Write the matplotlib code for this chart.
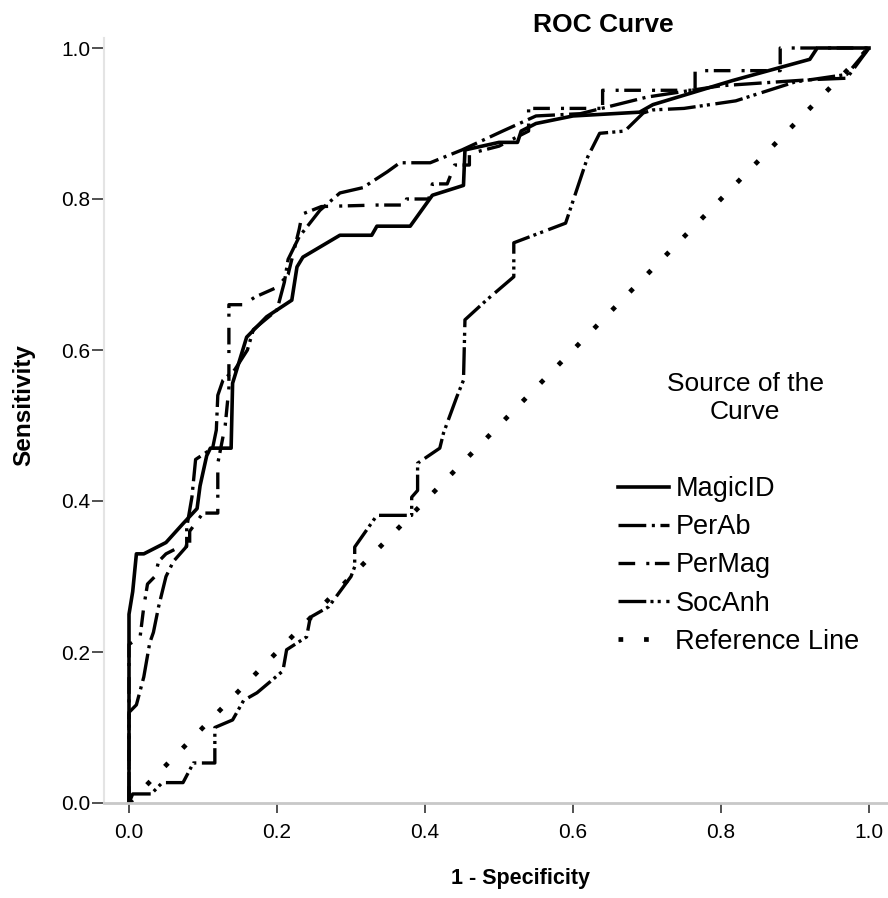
import matplotlib
matplotlib.use("Agg")
import matplotlib.pyplot as plt
from matplotlib.lines import Line2D

plt.rcParams['font.family'] = ['Liberation Sans', 'DejaVu Sans']
plt.rcParams['lines.scale_dashes'] = False

# ROC points (1 - specificity, sensitivity)
magic_fpr = [0, 0, 0.005, 0.01, 0.02, 0.05, 0.073, 0.092, 0.096, 0.105, 0.11, 0.138, 0.14,
             0.159, 0.186, 0.22, 0.227, 0.235, 0.285, 0.328, 0.335, 0.38, 0.41, 0.452, 0.454,
             0.5, 0.525, 0.53, 0.55, 0.6, 0.69, 0.708, 0.816, 0.92, 0.93, 1.0]
magic_tpr = [0, 0.25, 0.28, 0.33, 0.33, 0.345, 0.37, 0.39, 0.42, 0.46, 0.47, 0.47, 0.556,
             0.617, 0.644, 0.666, 0.71, 0.723, 0.752, 0.752, 0.764, 0.764, 0.805, 0.818, 0.865,
             0.875, 0.875, 0.89, 0.9, 0.91, 0.915, 0.925, 0.957, 0.985, 1.0, 1.0]

perab_fpr = [0, 0, 0.01, 0.02, 0.028, 0.033, 0.04, 0.05, 0.06, 0.078, 0.078, 0.085, 0.09,
             0.113, 0.118, 0.12, 0.127, 0.143, 0.16, 0.168, 0.2, 0.21, 0.215, 0.23, 0.258,
             0.285, 0.316, 0.349, 0.366, 0.407, 0.45, 0.505, 0.55, 0.61, 0.7, 0.8, 0.92, 0.97, 1.0]
perab_tpr = [0, 0.12, 0.13, 0.167, 0.212, 0.226, 0.26, 0.3, 0.32, 0.34, 0.365, 0.405, 0.455,
             0.47, 0.494, 0.54, 0.56, 0.574, 0.6, 0.627, 0.653, 0.69, 0.72, 0.75, 0.785,
             0.808, 0.815, 0.836, 0.848, 0.848, 0.865, 0.89, 0.91, 0.913, 0.935, 0.95, 0.958, 0.96, 1.0]

permag_fpr = [0, 0, 0.015, 0.02, 0.025, 0.035, 0.04, 0.05, 0.07, 0.082, 0.082, 0.1, 0.12,
              0.12, 0.13, 0.135, 0.135, 0.155, 0.17, 0.2, 0.215, 0.23, 0.234, 0.26, 0.335,
              0.375, 0.375, 0.405, 0.41, 0.43, 0.44, 0.46, 0.46, 0.5, 0.54, 0.54, 0.64, 0.64,
              0.765, 0.765, 0.88, 0.88, 1.0]
permag_tpr = [0, 0.21, 0.22, 0.26, 0.29, 0.3, 0.32, 0.33, 0.34, 0.34, 0.36, 0.384, 0.384,
              0.45, 0.5, 0.55, 0.66, 0.66, 0.67, 0.683, 0.7, 0.76, 0.78, 0.79, 0.792,
              0.792, 0.8, 0.8, 0.82, 0.82, 0.845, 0.845, 0.86, 0.87, 0.89, 0.92, 0.92, 0.944,
              0.944, 0.97, 0.97, 1.0, 1.0]

socanh_fpr = [0, 0.005, 0.03, 0.045, 0.073, 0.087, 0.116, 0.116, 0.14, 0.155, 0.173, 0.19,
              0.208, 0.213, 0.24, 0.245, 0.27, 0.3, 0.305, 0.305, 0.335, 0.382, 0.382, 0.39,
              0.39, 0.42, 0.425, 0.443, 0.452, 0.454, 0.483, 0.52, 0.52, 0.59, 0.62, 0.636,
              0.67, 0.695, 0.708, 0.75, 0.82, 0.9, 0.97, 1.0]
socanh_tpr = [0, 0.012, 0.012, 0.027, 0.027, 0.053, 0.053, 0.1, 0.11, 0.136, 0.146, 0.16,
              0.175, 0.203, 0.22, 0.246, 0.26, 0.3, 0.313, 0.339, 0.381, 0.381, 0.405, 0.414,
              0.45, 0.47, 0.49, 0.538, 0.56, 0.64, 0.666, 0.697, 0.742, 0.768, 0.856, 0.887,
              0.89, 0.914, 0.918, 0.92, 0.93, 0.955, 0.965, 1.0]

ref_x = [0, 1]
ref_y = [0, 1]

ticks = [0.0, 0.2, 0.4, 0.6, 0.8, 1.0]

fig = plt.figure(figsize=(8.88, 8.98), dpi=100)
ax = fig.add_axes([104 / 888, 95 / 898, 784 / 888, 765 / 898])

styles = {
    'MagicID': dict(lw=2.6, ls='-'),
    'PerAb': dict(lw=2.4, dashes=[20, 4, 2.2, 4]),
    'PerMag': dict(lw=2.4, dashes=[12, 8, 2.2, 4]),
    'SocAnh': dict(lw=2.4, dashes=[20, 3, 2.2, 3, 2.2, 4]),
    'Reference Line': dict(lw=3.4, dashes=[3.4, 15]),
}

ax.plot(magic_fpr, magic_tpr, color='black', **styles['MagicID'])
ax.plot(perab_fpr, perab_tpr, color='black', dash_capstyle='butt', **styles['PerAb'])
ax.plot(permag_fpr, permag_tpr, color='black', dash_capstyle='butt', **styles['PerMag'])
ax.plot(socanh_fpr, socanh_tpr, color='black', dash_capstyle='butt', **styles['SocAnh'])
ax.plot(ref_x, ref_y, color='black', dash_capstyle='butt', **styles['Reference Line'])

ax.set_xlim(-25 / 740, 759 / 740)
ax.set_ylim(0, 765 / 755)
ax.set_xticks(ticks)
ax.set_yticks(ticks)
ax.set_xticklabels([f"{t:.1f}" for t in ticks])
ax.set_yticklabels([f"{t:.1f}" for t in ticks])
ax.tick_params(axis='both', labelsize=15, color='#333333', width=1.2)
ax.tick_params(axis='y', length=9, pad=1)
ax.tick_params(axis='x', length=7.5, pad=7)

for s in ['top', 'right']:
    ax.spines[s].set_visible(False)
ax.spines['left'].set_color('#e4e4e4')
ax.spines['bottom'].set_color('#c8c8c8')
ax.spines['left'].set_linewidth(1.5)
ax.spines['bottom'].set_linewidth(2)

ax.set_xlabel('1 - Specificity', fontsize=15.5, fontweight='bold')
ax.xaxis.set_label_coords((520 - 104) / 784, (803 - 868) / 765)
ax.set_ylabel('Sensitivity', fontsize=17.5, fontweight='bold')
ax.yaxis.set_label_coords((35 - 104) / 784, (803 - 405) / 765)

fig.text(603 / 888, 1 - 25 / 898, 'ROC Curve', fontsize=19, fontweight='bold',
         ha='center', va='center')

# legend
fig.text(745 / 888, 1 - 398 / 898, 'Source of the\nCurve', fontsize=19,
         ha='center', va='center', linespacing=1.25)
handles = [Line2D([], [], color='black', dash_capstyle='butt', **styles[k]) for k in styles]
ax.legend(handles, list(styles.keys()), loc='upper left',
          bbox_to_anchor=(618 / 888, 1 - 476 / 898), bbox_transform=fig.transFigure,
          frameon=False, fontsize=19.5, handlelength=1.9, handletextpad=0.22,
          labelspacing=0.45, borderpad=0, borderaxespad=0)

fig.savefig('out.png', dpi=100)
